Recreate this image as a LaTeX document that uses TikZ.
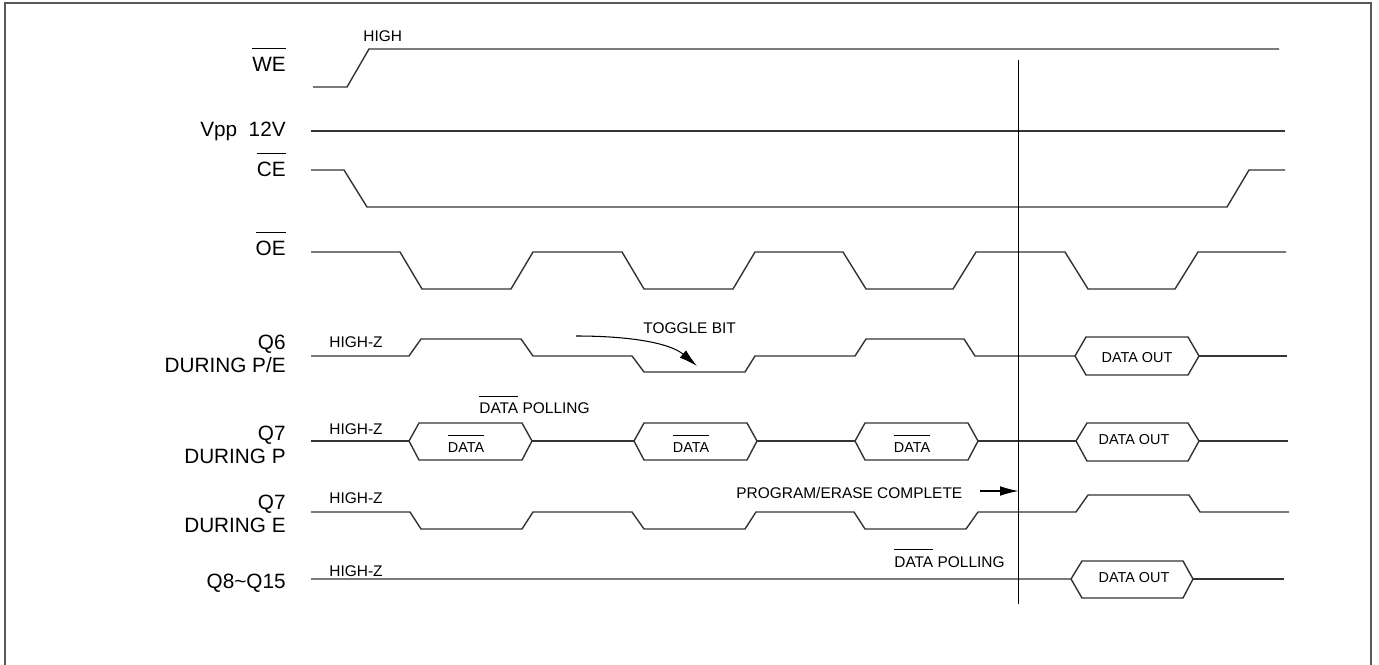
\documentclass[tikz,border=0pt]{standalone}
\usepackage{fontspec}
\setmainfont{Liberation Sans}
\usetikzlibrary{arrows.meta}
\newcommand{\ovl}[1]{$\overline{\mbox{\rule{0pt}{1em}#1}}$}
\begin{document}
\begin{tikzpicture}[x=0.02cm,y=-0.02cm,
    sig/.style={line width=0.8pt,black!80},
    lbl/.style={font=\fontsize{11.8}{13}\selectfont,inner sep=0pt,align=right},
    txt/.style={font=\fontsize{8.8}{10}\selectfont,inner sep=0pt},
    hex/.style={font=\fontsize{8.2}{10}\selectfont,inner sep=0pt},
    tip/.style={-{Latex[length=10.5pt,width=5.5pt]},line width=0.6pt}]
    \useasboundingbox (0,0) rectangle (1379,665);
    \draw[line width=1.1pt,black!65] (5,668) -- (5,3) -- (1371,3) -- (1371,668);
    % signal names
    \node[lbl,anchor=base east] (we) at (286,72) {\ovl{WE}};
    \node[lbl,anchor=base east] (vpp) at (286,137) {Vpp\ \ 12V};
    \node[lbl,anchor=base east] (ce) at (286,177) {\ovl{CE}};
    \node[lbl,anchor=base east] (oe) at (286,256) {\ovl{OE}};
    \node[lbl,anchor=east] (q6) at (286,354) {Q6\\DURING P/E};
    \node[lbl,anchor=east] (q7p) at (286,445) {Q7\\DURING P};
    \node[lbl,anchor=east] (q7e) at (286,514) {Q7\\DURING E};
    \node[lbl,anchor=base east] (q8) at (286,588) {Q8\textasciitilde Q15};
    % waveforms
    \draw[sig] (313,87) -- (347,87) -- (369,49) -- (1279,49);
    \draw[sig] (311,131) -- (1285,131);
    \draw[sig] (311,170) -- (344,170) -- (367,207) -- (1227,207) -- (1249,170) -- (1285,170);
    \draw[sig] (311,252) -- (400,252) -- (422,289) -- (511,289) -- (533,252) -- (622,252) -- (644,289)
        -- (733,289) -- (755,252) -- (843,252) -- (866,289) -- (953,289) -- (976,252) -- (1065,252)
        -- (1088,289) -- (1175,289) -- (1198,252) -- (1286,252);
    \draw[sig] (311,356) -- (409,356) -- (421,339) -- (521,339) -- (533,356) -- (632,356) -- (644,372)
        -- (745,372) -- (755,356) -- (855,356) -- (866,339) -- (964,339) -- (975,356) -- (1075,356);
    \draw[sig] (1075,356) -- (1086,337) -- (1188,337) -- (1199,356) -- (1188,375) -- (1086,375) -- cycle;
    \draw[sig] (1199,356) -- (1287,356);
    \draw[sig] (311,441) -- (409,441) (532,441) -- (634,441) (756,441) -- (855,441) (977,441) -- (1076,441)
        (1199,441) -- (1288,441);
    \foreach \x [count=\i] in {409,634,855}
      {\draw[sig] (\x,441) -- ++(10,-18) -- ++(103,0) -- ++(10,18) -- ++(-10,19) -- ++(-103,0) -- cycle;
       \node[hex,anchor=base] (data\i) at (\x+57,452) {\ovl{DATA}};}
    \draw[sig] (1076,441) -- (1087,423) -- (1188,423) -- (1199,441) -- (1188,461) -- (1087,461) -- cycle;
    \draw[sig] (311,512) -- (410,512) -- (421,529) -- (522,529) -- (533,512) -- (632,512) -- (644,529)
        -- (745,529) -- (756,512) -- (854,512) -- (865,529) -- (966,529) -- (978,512) -- (1076,512)
        -- (1088,495) -- (1189,495) -- (1200,512) -- (1289,512);
    \draw[sig] (311,579) -- (1071,579) -- (1082,561) -- (1183,561) -- (1193,579) -- (1183,598) -- (1082,598) -- (1071,579);
    \draw[sig] (1193,579) -- (1284,579);
    % texts
    \node[txt,anchor=base west] (high) at (363,42) {HIGH};
    \node[txt,anchor=base west] (hz6) at (329,348) {HIGH-Z};
    \node[txt,anchor=base west] (hz7p) at (329,434) {HIGH-Z};
    \node[txt,anchor=base west] (hz7e) at (329,503) {HIGH-Z};
    \node[txt,anchor=base west] (hz8) at (329,576) {HIGH-Z};
    \node[txt,anchor=base west] (toggle) at (643,334) {TOGGLE BIT};
    \node[txt,anchor=base west] (poll1) at (479,414) {\ovl{DATA} POLLING};
    \node[txt,anchor=base west] (poll2) at (894,567) {\ovl{DATA} POLLING};
    \node[txt,anchor=base west] (pec) at (736,498) {PROGRAM/ERASE COMPLETE};
    \node[hex,anchor=base] (out6) at (1137,362) {DATA OUT};
    \node[hex,anchor=base] (out7) at (1134,444) {DATA OUT};
    \node[hex,anchor=base] (out8) at (1134,582) {DATA OUT};
    % completion marker and arrows
    \coordinate (done) at (1018.5,60);
    \coordinate (donebot) at (1018.5,604);
    \draw[line width=0.6pt] (done) -- (donebot);
    \coordinate (tgl) at (576,336);
    \coordinate (tgltip) at (697,366);
    \draw[tip] (tgl) .. controls (630,336) and (670,343) .. (tgltip);
    \coordinate (pe) at (980,491);
    \draw[tip] (pe) -- (pe -| done);
\end{tikzpicture}
\end{document}
